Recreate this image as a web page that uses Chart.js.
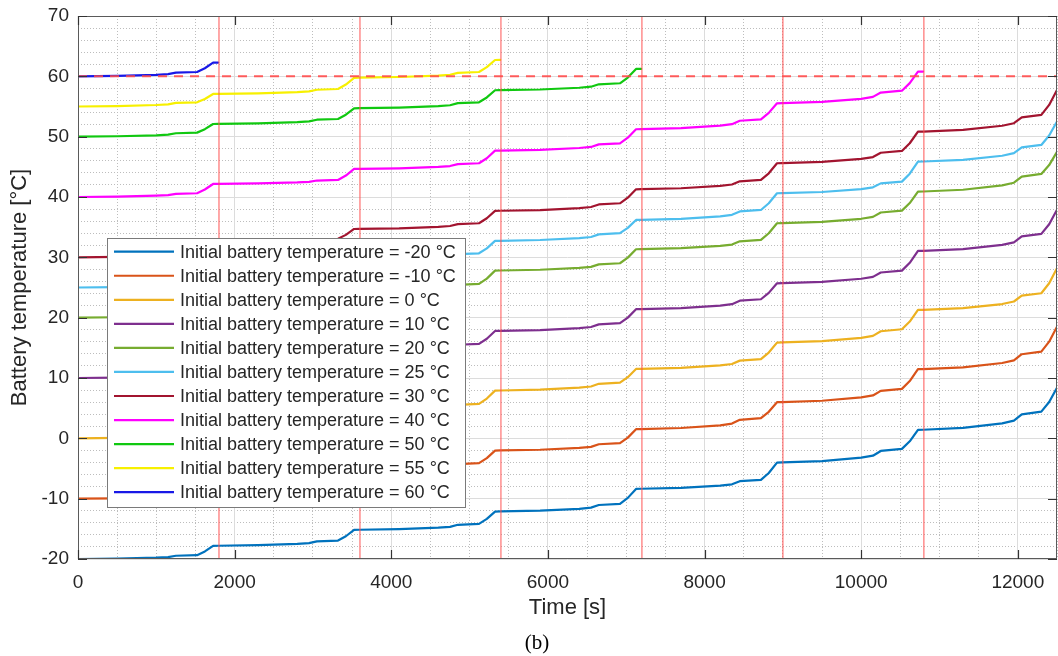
<!DOCTYPE html>
<html><head><meta charset="utf-8">
<script src="https://cdn.jsdelivr.net/npm/chart.js@4.4.1/dist/chart.umd.min.js"></script>
<style>html,body{margin:0;padding:0;background:#fff;}canvas{display:block;}</style>
</head><body>
<canvas id="c" width="1058" height="656"></canvas>
<script>
// ---- data ----
const times = [0,
 500,1000,1150,1250,1520,1620,1725,1790,
 2300,2800,2950,3050,3320,3420,3525,3590,
 4100,4600,4750,4850,5120,5220,5325,5390,
 5900,6400,6550,6650,6920,7020,7125,7190,
 7700,8200,8350,8450,8720,8820,8925,8990,
 9500,10000,10150,10250,10520,10620,10725,10790,
 11300,11800,11950,12050,12300,12400,12500];

const initialTemps = [-20,-10,0,10,20,25,30,40,50,55,60];

const tempM20 = [-20,
 -19.94,-19.78,-19.68,-19.46,-19.36,-18.74,-17.82,-17.80,
 -17.71,-17.50,-17.37,-17.07,-16.94,-16.23,-15.17,-15.15,
 -15.05,-14.81,-14.67,-14.33,-14.18,-13.36,-12.14,-12.12,
 -11.99,-11.68,-11.49,-11.05,-10.86,-9.87,-8.38,-8.36,
 -8.21,-7.84,-7.62,-7.10,-6.88,-5.74,-4.02,-4.00,
 -3.78,-3.21,-2.88,-2.09,-1.75,-0.49,1.40,1.42,
 1.72,2.47,2.93,3.98,4.43,6.02,8.40];
const tempM10 = [-10,
 -9.94,-9.77,-9.68,-9.45,-9.35,-8.73,-7.80,-7.78,
 -7.69,-7.48,-7.35,-7.05,-6.92,-6.19,-5.10,-5.08,
 -4.98,-4.74,-4.60,-4.26,-4.12,-3.28,-2.03,-2.01,
 -1.89,-1.59,-1.41,-0.98,-0.80,0.12,1.51,1.53,
 1.71,2.16,2.44,3.07,3.34,4.40,5.99,6.01,
 6.23,6.78,7.11,7.87,8.20,9.50,11.46,11.48,
 11.77,12.49,12.93,13.94,14.37,16.02,18.50];
const temp0 = [0,
 0.07,0.23,0.33,0.55,0.65,1.27,2.20,2.22,
 2.31,2.52,2.65,2.94,3.07,3.73,4.72,4.74,
 4.84,5.08,5.23,5.56,5.71,6.59,7.91,7.93,
 8.06,8.39,8.59,9.04,9.24,10.14,11.50,11.52,
 11.68,12.08,12.32,12.88,13.12,14.22,15.87,15.89,
 16.11,16.66,16.99,17.75,18.08,19.36,21.28,21.30,
 21.58,22.26,22.68,23.64,24.05,25.71,28.20];
const temp10 = [10,
 10.07,10.23,10.33,10.55,10.65,11.27,12.20,12.22,
 12.31,12.52,12.65,12.94,13.07,13.72,14.70,14.72,
 14.81,15.05,15.19,15.51,15.65,16.51,17.80,17.82,
 17.95,18.26,18.45,18.89,19.08,20.01,21.40,21.42,
 21.58,21.99,22.24,22.81,23.05,24.11,25.70,25.72,
 25.93,26.45,26.76,27.49,27.80,29.10,31.06,31.08,
 31.36,32.06,32.48,33.46,33.88,35.49,37.90];
const temp20 = [20,
 20.07,20.23,20.33,20.55,20.65,21.27,22.20,22.22,
 22.31,22.52,22.65,22.94,23.07,23.68,24.60,24.62,
 24.72,24.96,25.11,25.44,25.59,26.47,27.80,27.82,
 27.94,28.24,28.42,28.84,29.02,29.95,31.34,31.36,
 31.51,31.89,32.12,32.65,32.88,33.99,35.65,35.67,
 35.88,36.39,36.71,37.43,37.74,39.00,40.89,40.91,
 41.20,41.93,42.37,43.38,43.82,45.29,47.50];
const temp25 = [25,
 25.07,25.23,25.33,25.55,25.65,26.27,27.20,27.22,
 27.31,27.52,27.65,27.94,28.07,28.72,29.70,29.72,
 29.82,30.05,30.20,30.53,30.67,31.49,32.72,32.74,
 32.87,33.18,33.37,33.81,34.00,34.88,36.20,36.22,
 36.38,36.79,37.04,37.61,37.85,38.96,40.62,40.64,
 40.83,41.31,41.60,42.26,42.55,43.87,45.86,45.88,
 46.16,46.84,47.26,48.22,48.63,50.18,52.50];
const temp30 = [30,
 30.07,30.23,30.33,30.55,30.65,31.27,32.20,32.22,
 32.31,32.52,32.65,32.94,33.07,33.72,34.70,34.72,
 34.81,35.05,35.19,35.51,35.65,36.47,37.70,37.72,
 37.84,38.15,38.34,38.77,38.96,39.89,41.28,41.30,
 41.45,41.84,42.07,42.60,42.83,43.93,45.59,45.61,
 45.81,46.32,46.62,47.33,47.63,48.91,50.83,50.85,
 51.13,51.81,52.23,53.19,53.60,55.26,57.74];
const temp40 = [40,
 40.06,40.22,40.31,40.53,40.62,41.24,42.16,42.18,
 42.25,42.41,42.51,42.73,42.83,43.56,44.65,44.67,
 44.76,44.99,45.13,45.45,45.59,46.43,47.68,47.70,
 47.82,48.12,48.30,48.72,48.90,49.83,51.23,51.25,
 51.41,51.82,52.07,52.64,52.88,53.94,55.53,55.55,
 55.76,56.27,56.59,57.31,57.62,58.88,60.77,60.79];
const temp50 = [50,
 50.07,50.23,50.34,50.57,50.67,51.24,52.10,52.12,
 52.20,52.40,52.53,52.81,52.93,53.64,54.70,54.72,
 54.82,55.06,55.21,55.55,55.70,56.50,57.69,57.71,
 57.82,58.11,58.28,58.68,58.85,59.80,61.22,61.24];
const temp55 = [55,
 55.07,55.25,55.35,55.60,55.70,56.25,57.08,57.10,
 57.18,57.38,57.50,57.78,57.90,58.64,59.75,59.80,
 59.89,60.12,60.26,60.58,60.72,61.52,62.71,62.73];
const temp60 = [60,
 60.07,60.25,60.36,60.61,60.72,61.34,62.26,62.28];

const xTicks = [0,2000,4000,6000,8000,10000,12000];
const yTicks = [-20,-10,0,10,20,30,40,50,60,70];
const xRange = [0,12500];
const yRange = [-20,70];
const xMinorStep = 500;
const yMinorStep = 2;
const hourMarks = [1800,3600,5400,7200,9000,10800];
const limitTemp = 60;

// ---- styles ----
const seriesValues = [tempM20,tempM10,temp0,temp10,temp20,temp25,temp30,temp40,temp50,temp55,temp60];
const seriesColors = ['#0072BD','#D95319','#EDB120','#7E2F8E','#77AC30','#4DBEEE','#A2142F','#FF00FF','#10C810','#F7F000','#1818E6'];
const FONT = "'Liberation Sans', Arial, Helvetica, sans-serif";
const TXT = '#262626';

const datasets = seriesValues.map((vals,i)=>({
  label: 'Initial battery temperature = ' + initialTemps[i] + ' °C',
  data: vals.map((v,j)=>({x:times[j], y:v})),
  borderColor: seriesColors[i], backgroundColor: seriesColors[i],
  borderWidth: 2.2, pointRadius: 0, tension: 0, fill: false,
  borderJoinStyle: 'round', borderCapStyle: 'round',
  order: 2, inLegend: true
}));
hourMarks.forEach(m => datasets.push({
  label: 'hour ' + m,
  data: [{x:m, y:yRange[0]}, {x:m, y:yRange[1]}],
  borderColor: 'rgba(255,80,80,0.7)', borderWidth: 1.4, pointRadius: 0, order: 1
}));
datasets.push({
  label: 'limit',
  data: [{x:xRange[0], y:limitTemp}, {x:xRange[1], y:limitTemp}],
  borderColor: 'rgba(255,75,75,0.9)', borderWidth: 2, borderDash: [9,7], pointRadius: 0, order: 0
});

const minorColor = '#bdbdbd';
const majorColor = '#dcdcdc';

function noPad(s) { s.paddingTop = 0; s.paddingBottom = 0; s.paddingLeft = 0; s.paddingRight = 0; }

const overlay = {
  id: 'overlay',
  afterDraw(chart) {
    const {ctx, chartArea: a, scales: {x, y}} = chart;
    ctx.save();
    // axes box
    ctx.strokeStyle = '#5a5a5a'; ctx.lineWidth = 1;
    ctx.strokeRect(a.left + 0.5, a.top + 0.5, a.right - a.left - 1, a.bottom - a.top - 1);
    // inward ticks on all four sides
    ctx.strokeStyle = '#333'; ctx.lineWidth = 1.2;
    ctx.beginPath();
    xTicks.forEach(v => {
      const px = Math.round(x.getPixelForValue(v)) + 0.5;
      ctx.moveTo(px, a.top); ctx.lineTo(px, a.top + 9);
      ctx.moveTo(px, a.bottom); ctx.lineTo(px, a.bottom - 9);
    });
    yTicks.forEach(v => {
      const py = Math.round(y.getPixelForValue(v)) + 0.5;
      ctx.moveTo(a.left, py); ctx.lineTo(a.left + 9, py);
      ctx.moveTo(a.right, py); ctx.lineTo(a.right - 9, py);
    });
    ctx.stroke();
    // legend box
    const L = {x: 107, y: 238, w: 358, h: 269, first: 13.7, row: 24.05};
    ctx.fillStyle = '#fff';
    ctx.fillRect(L.x, L.y, L.w, L.h);
    ctx.strokeStyle = '#7a7a7a'; ctx.lineWidth = 1;
    ctx.strokeRect(L.x + 0.5, L.y + 0.5, L.w, L.h);
    ctx.font = '18px ' + FONT;
    ctx.textBaseline = 'middle'; ctx.textAlign = 'left';
    const items = chart.data.datasets.filter(d => d.inLegend);
    items.forEach((d, i) => {
      const cy = L.y + L.first + i * L.row;
      ctx.strokeStyle = d.borderColor; ctx.lineWidth = 2.2;
      ctx.beginPath(); ctx.moveTo(114, cy); ctx.lineTo(174, cy); ctx.stroke();
      ctx.fillStyle = TXT;
      ctx.fillText(d.label, 180, cy + 1);
    });
    // caption
    ctx.fillStyle = '#000';
    ctx.font = "21px 'Liberation Serif', 'Times New Roman', serif";
    ctx.textAlign = 'center';
    ctx.fillText('(b)', 537, 643);
    ctx.restore();
  }
};

new Chart(document.getElementById('c'), {
  type: 'line',
  data: {datasets},
  options: {
    responsive: false, animation: false, devicePixelRatio: 1,
    layout: {padding: {left: 0, right: 1, top: 16, bottom: 0}},
    plugins: {legend: {display: false}, tooltip: {enabled: false}},
    elements: {point: {radius: 0}},
    scales: {
      xMinor: {
        type: 'linear', position: 'top', min: xRange[0], max: xRange[1],
        ticks: {display: false, stepSize: xMinorStep},
        grid: {drawTicks: false, lineWidth: 1,
               color: c => (c.tick && c.tick.value % 2000 === 0) ? 'rgba(0,0,0,0)' : minorColor},
        border: {display: false, dash: [1, 2]},
        afterFit(s) { s.height = 0; noPad(s); }
      },
      yMinor: {
        type: 'linear', position: 'right', min: yRange[0], max: yRange[1],
        ticks: {display: false, stepSize: yMinorStep},
        grid: {drawTicks: false, lineWidth: 1,
               color: c => (c.tick && c.tick.value % 10 === 0) ? 'rgba(0,0,0,0)' : minorColor},
        border: {display: false, dash: [1, 2]},
        afterFit(s) { s.width = 0; noPad(s); }
      },
      x: {
        type: 'linear', position: 'bottom', min: xRange[0], max: xRange[1],
        afterBuildTicks(s) { s.ticks = xTicks.map(v => ({value: v})); },
        ticks: {callback: v => String(v), font: {family: FONT, size: 19}, color: TXT, padding: 12, maxRotation: 0, autoSkip: false},
        grid: {drawTicks: false, color: majorColor, lineWidth: 1},
        border: {display: false},
        title: {display: true, text: 'Time [s]', font: {family: FONT, size: 22}, color: TXT, padding: {top: 0, bottom: 35}},
        afterFit(s) { s.height = 97; noPad(s); }
      },
      y: {
        type: 'linear', position: 'left', min: yRange[0], max: yRange[1],
        afterBuildTicks(s) { s.ticks = yTicks.map(v => ({value: v})); },
        ticks: {callback: v => String(v), font: {family: FONT, size: 19}, color: TXT, padding: 9, autoSkip: false},
        grid: {drawTicks: false, color: majorColor, lineWidth: 1},
        border: {display: false},
        title: {display: true, text: 'Battery temperature [°C]', font: {family: FONT, size: 22}, color: TXT, padding: {top: 7, bottom: 0}},
        afterFit(s) { s.width = 78; noPad(s); }
      }
    }
  },
  plugins: [overlay]
});
</script>
</body></html>
